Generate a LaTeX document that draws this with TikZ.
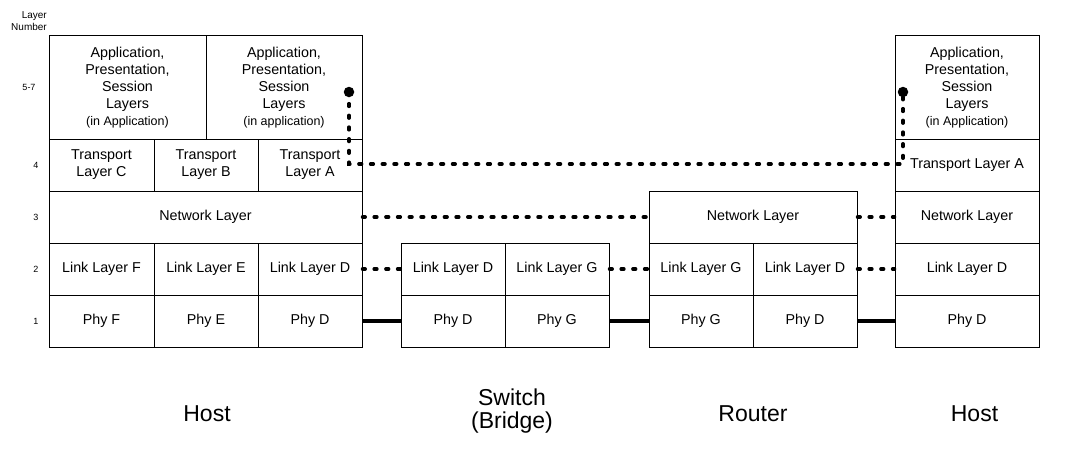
\documentclass[tikz,border=0pt]{standalone}
\usepackage{fontspec}
\setmainfont{Liberation Sans}
\begin{document}
\begin{tikzpicture}[x=1pt,y=-1pt,
  cell/.style={draw=black, line width=1pt, inner sep=0pt, align=center,
    font=\fontsize{14.3}{17}\selectfont},
  appcell/.style={cell, minimum height=104pt},
  rowcell/.style={cell, minimum height=52pt},
  lnum/.style={font=\fontsize{9}{11}\selectfont, inner sep=0pt},
  devlabel/.style={font=\fontsize{23}{23}\selectfont, inner sep=0pt, align=center},
  dotline/.style={line width=3.5pt, dash pattern=on 2.7pt off 9pt, line cap=round},
  phyline/.style={line width=4pt},
  enddot/.style={circle, fill=black, inner sep=0pt, minimum size=10.5pt}
]
\useasboundingbox (0,0) rectangle (1071,450);

% layer numbers
\node[font=\fontsize{10}{12}\selectfont, align=right, anchor=east, inner sep=0pt] (lnhead) at (47,21.5) {Layer\\Number};
\node[lnum] (n57) at (29,87) {5-7};
\node[lnum] (n4) at (36,165) {4};
\node[lnum] (n3) at (36,217) {3};
\node[lnum] (n2) at (36,269) {2};
\node[lnum] (n1) at (36,321) {1};

% left host
\node[appcell, minimum width=157pt] (app1) at (127.5,87.5) {Application,\\Presentation,\\Session\\Layers\\{\fontsize{12.5}{17}\selectfont (in Application)}};
\node[appcell, minimum width=156pt] (app2) at (284,87.5) {Application,\\Presentation,\\Session\\Layers\\{\fontsize{12.5}{17}\selectfont (in application)}};
\node[rowcell, minimum width=105pt] (tC) at (101.5,165) {Transport\\Layer C};
\node[rowcell, minimum width=104pt] (tB) at (206,165) {Transport\\Layer B};
\node[rowcell, minimum width=104pt] (tA) at (310,165) {Transport\\Layer A};
\node[rowcell, minimum width=313pt] (lnet) at (205.5,217) {Network Layer};
\node[rowcell, minimum width=105pt] (lF) at (101.5,269) {Link Layer F};
\node[rowcell, minimum width=104pt] (lE) at (206,269) {Link Layer E};
\node[rowcell, minimum width=104pt] (lD) at (310,269) {Link Layer D};
\node[rowcell, minimum width=105pt] (pF) at (101.5,321) {Phy F};
\node[rowcell, minimum width=104pt] (pE) at (206,321) {Phy E};
\node[rowcell, minimum width=104pt] (pD) at (310,321) {Phy D};

% switch
\node[rowcell, minimum width=104pt] (sD) at (453,269) {Link Layer D};
\node[rowcell, minimum width=104pt] (sG) at (557,269) {Link Layer G};
\node[rowcell, minimum width=104pt] (spD) at (453,321) {Phy D};
\node[rowcell, minimum width=104pt] (spG) at (557,321) {Phy G};

% router
\node[rowcell, minimum width=208pt] (rnet) at (753,217) {Network Layer};
\node[rowcell, minimum width=104pt] (rG) at (701,269) {Link Layer G};
\node[rowcell, minimum width=104pt] (rD) at (805,269) {Link Layer D};
\node[rowcell, minimum width=104pt] (rpG) at (701,321) {Phy G};
\node[rowcell, minimum width=104pt] (rpD) at (805,321) {Phy D};

% right host
\node[appcell, minimum width=144pt] (happ) at (967,87.5) {Application,\\Presentation,\\Session\\Layers\\{\fontsize{12.5}{17}\selectfont (in Application)}};
\node[rowcell, minimum width=144pt] (htA) at (967,165) {Transport Layer A};
\node[rowcell, minimum width=144pt] (hnet) at (967,217) {Network Layer};
\node[rowcell, minimum width=144pt] (hD) at (967,269) {Link Layer D};
\node[rowcell, minimum width=144pt] (hpD) at (967,321) {Phy D};

% transport peer connection
\node[enddot] (d1) at (349,92) {};
\node[enddot] (d2) at (903,92) {};
\coordinate (c1) at (349,164);
\coordinate (c2) at (903,164);
\draw[dotline] (d1.center) -- (c1) -- (c2) -- (d2.center);

% network peers
\draw[dotline] (lnet.east) -- (rnet.west);
\draw[dotline] (rnet.east) -- (hnet.west);

% link peers
\draw[dotline] (lD.east) -- (sD.west);
\draw[dotline] (sG.east) -- (rG.west);
\draw[dotline] (rD.east) -- (hD.west);

% physical links
\draw[phyline] (pD.east) -- (spD.west);
\draw[phyline] (spG.east) -- (rpG.west);
\draw[phyline] (rpD.east) -- (hpD.west);

% device labels
\node[devlabel, anchor=base] (lhost) at (207,421) {Host};
\node[devlabel] (switch) at (512,411) {Switch\\(Bridge)};
\node[devlabel, anchor=base] (router) at (753,421) {Router};
\node[devlabel, anchor=base] (rhost) at (974.5,421) {Host};
\end{tikzpicture}
\end{document}
